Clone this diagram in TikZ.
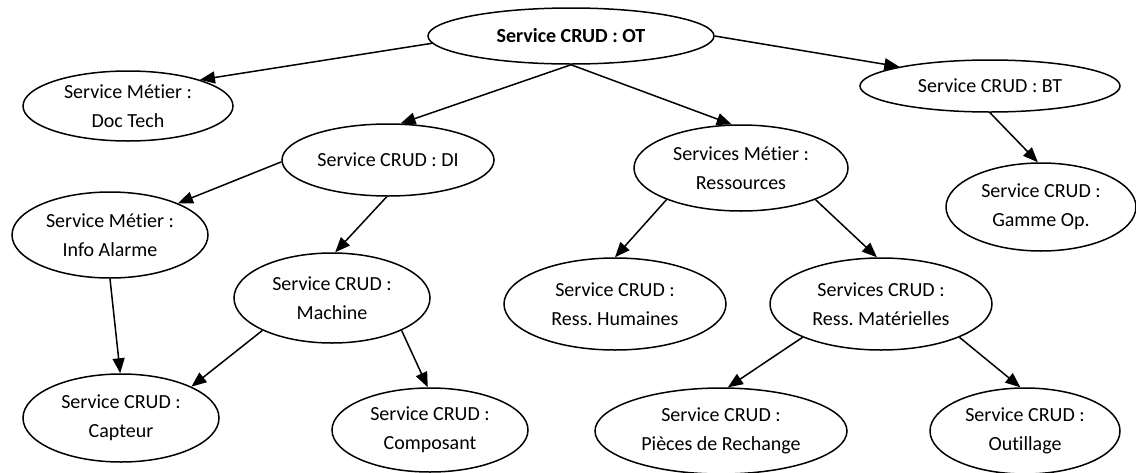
\documentclass[tikz,border=0pt]{standalone}
\usepackage{fontspec}
\setmainfont[Ligatures=NoCommon]{Carlito}
\usetikzlibrary{shapes.geometric,arrows.meta}
\begin{document}
\frenchspacing
\begin{tikzpicture}[x=1pt,y=-1pt,
  svc/.style={draw=black,line width=1.5pt,ellipse,inner sep=0pt,align=center,
    font=\fontsize{20}{29}\selectfont},
  link/.style={line width=1.5pt,-{Triangle[length=15pt,width=12pt]}}]
\useasboundingbox (0,0) rectangle (1136,472);
\node[svc,minimum width=286pt,minimum height=56pt,font=\fontsize{20}{29}\selectfont\bfseries] (ot) at (571,36) {Service CRUD : OT};
\node[svc,minimum width=210pt,minimum height=70pt] (doc) at (128,106) {Service Métier :\\Doc Tech};
\node[svc,minimum width=260pt,minimum height=52pt] (bt) at (990,86) {Service CRUD : BT};
\node[svc,minimum width=190pt,minimum height=88pt] (gam) at (1041,207) {Service CRUD :\\Gamme Op.};
\node[svc,minimum width=212pt,minimum height=72pt] (di) at (388,160) {Service CRUD : DI};
\node[svc,minimum width=214pt,minimum height=86pt] (res) at (741,168) {Services Métier :\\Ressources};
\node[svc,minimum width=196pt,minimum height=86pt] (ala) at (110,235) {Service Métier :\\Info Alarme};
\node[svc,minimum width=196pt,minimum height=90pt] (mac) at (332,298) {Service CRUD :\\Machine};
\node[svc,minimum width=222pt,minimum height=92pt] (hum) at (615,304) {Service CRUD :\\Ress. Humaines};
\node[svc,minimum width=222pt,minimum height=92pt] (mat) at (881,304) {Services CRUD :\\Ress. Matérielles};
\node[svc,minimum width=196pt,minimum height=88pt] (cap) at (121,418) {Service CRUD :\\Capteur};
\node[svc,minimum width=196pt,minimum height=84pt] (com) at (430,430) {Service CRUD :\\Composant};
\node[svc,minimum width=252pt,minimum height=86pt] (pie) at (721,431) {Service CRUD :\\Pièces de Rechange};
\node[svc,minimum width=190pt,minimum height=86pt] (out) at (1025,431) {Service CRUD :\\Outillage};
\draw[link] (ot.183) -- (doc.20);
\draw[link] (ot.south) -- (di.71);
\draw[link] (ot.south) -- (res.102);
\draw[link] (ot.east) -- (bt.168);
\draw[link] (bt.south) -- (gam.94);
\draw[link] (di.181) -- (ala.25);
\draw[link] (di.268) -- (mac.86);
\draw[link] (ala.south) -- (cap.91);
\draw[link] (mac.205) -- (cap.24);
\draw[link] (mac.335) -- (com.93);
\draw[link] (res.203) -- (hum.north);
\draw[link] (res.337) -- (mat.95);
\draw[link] (mat.203) -- (pie.81);
\draw[link] (mat.337) -- (out.96);
\end{tikzpicture}
\end{document}
